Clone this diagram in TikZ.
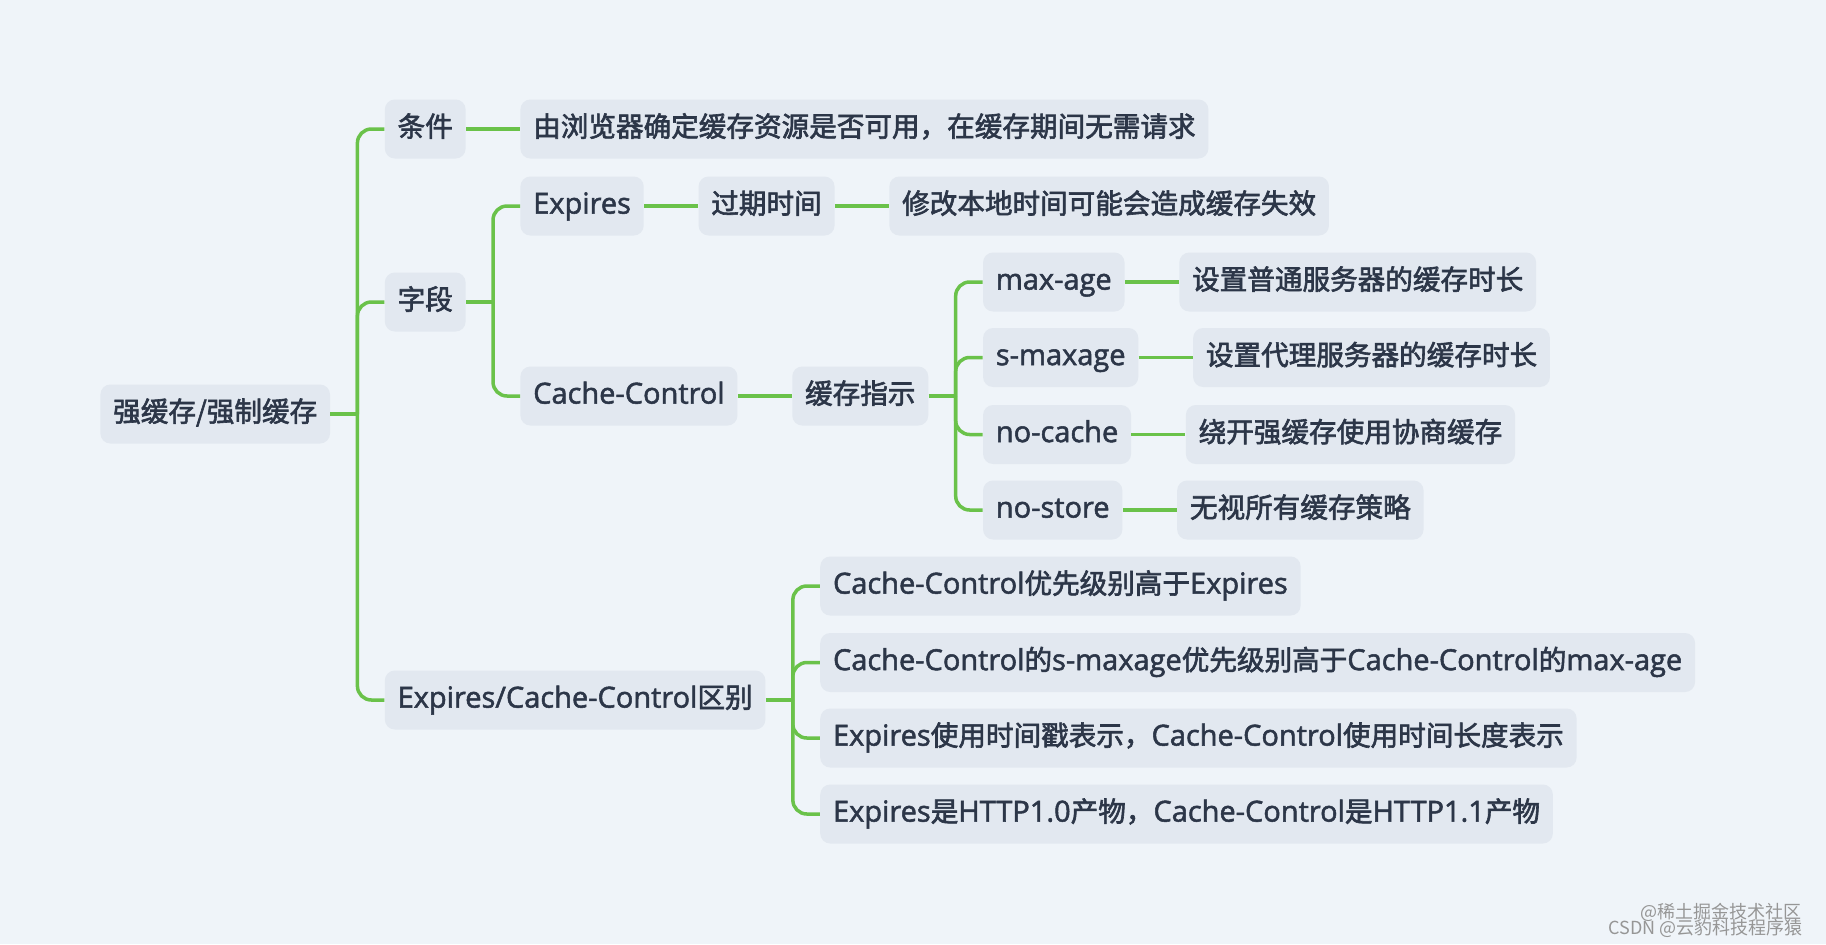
\documentclass[tikz,border=0pt]{standalone}
\usepackage{fontspec}
\setmainfont{Noto Sans CJK SC}[FakeBold=2.2]
\newfontfamily\lat{Open Sans}[Scale=1.05, FakeBold=1.8]
\newfontfamily\wmfont{Noto Sans CJK SC}
\newcommand{\La}[1]{{\lat #1}}
\usetikzlibrary{calc}
\definecolor{bgc}{RGB}{239,244,249}
\definecolor{boxc}{RGB}{226,232,240}
\definecolor{txtc}{RGB}{44,54,72}
\definecolor{linc}{RGB}{106,194,74}
\definecolor{wmc}{RGB}{150,150,150}
\begin{document}
\begin{tikzpicture}[x=0.5pt,y=-0.5pt,
  box/.style={fill=boxc, rounded corners=5pt, text=txtc,
    font=\fontsize{13.8pt}{16pt}\selectfont, inner xsep=6.4pt, inner ysep=0pt,
    text height=0.88em, text depth=0.12em,
    minimum height=29.5pt, anchor=west},
  conn/.style={draw=linc, line width=1.75pt},
  branch/.style={conn, rounded corners=7pt},
  wm/.style={text=wmc, font=\wmfont\fontsize{9pt}{10pt}\selectfont, anchor=east, inner sep=0pt}]
\fill[bgc] (0,0) rectangle (1826,944);
\useasboundingbox (0,0) rectangle (1826,944);

% root
\node[box] (root) at (100,414) {强缓存/强制缓存};
\coordinate (j0) at ($(root.east)+(27,0)$);
\node[box] (tiaojian) at ($(j0)+(27,-285)$) {条件};
\node[box] (ziduan)   at ($(j0)+(27,-112)$) {字段};
\node[box] (qubie)    at ($(j0)+(27,286)$) {\La{Expires/Cache-Control}区别};
\draw[conn] (root.east) -- (j0);
\draw[branch] (j0) |- (tiaojian.west);
\draw[branch] (j0) |- (ziduan.west);
\draw[branch] (j0) |- (qubie.west);

% 条件
\node[box] (tjtext) at ($(tiaojian.east)+(54,0)$) {由浏览器确定缓存资源是否可用，在缓存期间无需请求};
\draw[conn] (tiaojian.east) -- (tjtext.west);

% 字段
\coordinate (j1) at ($(ziduan.east)+(27,0)$);
\node[box] (expires) at ($(j1)+(27,-96)$) {\La{Expires}};
\node[box] (cc)      at ($(j1)+(27,94)$) {\La{Cache-Control}};
\draw[conn] (ziduan.east) -- (j1);
\draw[branch] (j1) |- (expires.west);
\draw[branch] (j1) |- (cc.west);

\node[box] (guoqi) at ($(expires.east)+(54,0)$) {过期时间};
\node[box] (xiugai) at ($(guoqi.east)+(54,0)$) {修改本地时间可能会造成缓存失效};
\draw[conn] (expires.east) -- (guoqi.west);
\draw[conn] (guoqi.east) -- (xiugai.west);

\node[box] (zhishi) at ($(cc.east)+(54,0)$) {缓存指示};
\draw[conn] (cc.east) -- (zhishi.west);
\coordinate (j2) at ($(zhishi.east)+(27,0)$);
\draw[conn] (zhishi.east) -- (j2);
\node[box] (maxage)  at ($(j2)+(27,-114)$) {\La{max-age}};
\node[box] (smaxage) at ($(j2)+(27,-38.5)$) {\La{s-maxage}};
\node[box] (nocache) at ($(j2)+(27,38.5)$) {\La{no-cache}};
\node[box] (nostore) at ($(j2)+(27,114)$) {\La{no-store}};
\draw[branch] (j2) |- (maxage.west);
\draw[branch] (j2) |- (smaxage.west);
\draw[branch] (j2) |- (nocache.west);
\draw[branch] (j2) |- (nostore.west);

\node[box] (t1) at ($(maxage.east)+(54,0)$) {设置普通服务器的缓存时长};
\node[box] (t2) at ($(smaxage.east)+(54,0)$) {设置代理服务器的缓存时长};
\node[box] (t3) at ($(nocache.east)+(54,0)$) {绕开强缓存使用协商缓存};
\node[box] (t4) at ($(nostore.east)+(54,0)$) {无视所有缓存策略};
\draw[conn] (maxage.east) -- (t1.west);
\draw[conn] (smaxage.east) -- (t2.west);
\draw[conn] (nocache.east) -- (t3.west);
\draw[conn] (nostore.east) -- (t4.west);

% 区别
\coordinate (j3) at ($(qubie.east)+(27,0)$);
\draw[conn] (qubie.east) -- (j3);
\node[box] (d1) at ($(j3)+(27,-114)$) {\La{Cache-Control}优先级别高于\La{Expires}};
\node[box] (d2) at ($(j3)+(27,-37.5)$) {\La{Cache-Control}的\La{s-maxage}优先级别高于\La{Cache-Control}的\La{max-age}};
\node[box] (d3) at ($(j3)+(27,38)$) {\La{Expires}使用时间戳表示，\La{Cache-Control}使用时间长度表示};
\node[box] (d4) at ($(j3)+(27,114)$) {\La{Expires}是\La{HTTP1.0}产物，\La{Cache-Control}是\La{HTTP1.1}产物};
\draw[branch] (j3) |- (d1.west);
\draw[branch] (j3) |- (d2.west);
\draw[branch] (j3) |- (d3.west);
\draw[branch] (j3) |- (d4.west);

% watermark
\node[wm] (wm1) at (1802,912) {@稀土掘金技术社区};
\node[wm] (wm2) at (1803,928) {CSDN @云豹科技程序猿};
\end{tikzpicture}
\end{document}
